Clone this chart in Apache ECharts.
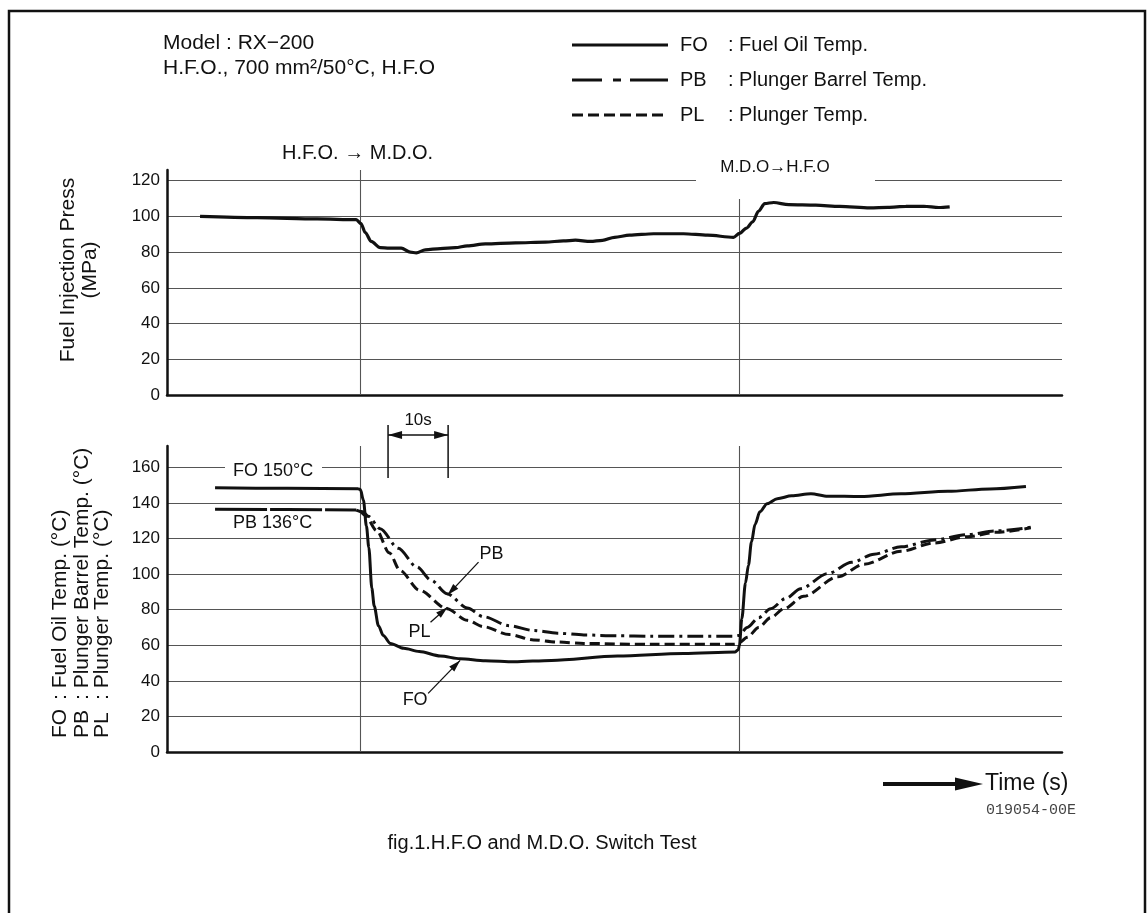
<!DOCTYPE html>
<html><head><meta charset="utf-8">
<script src="https://cdn.jsdelivr.net/npm/echarts@6/dist/echarts.min.js"></script>
<style>html,body{margin:0;padding:0;background:#fff}#c{width:1148px;height:913px}</style>
</head><body><div id="c"></div>
<script>
// ---------- DATA (time in s) ----------
const pressT = [5.5,15,25,31.5,32.3,33,34,35.5,37,39,40.5,41.5,43,45.5,48,50,53,58,63,66,68,70.5,72.5,74.5,77,81,86,90,94.3,95.3,96.5,97.5,98.5,99.5,101,103.5,108,112,117,120,123,126,128.5,130.3];
const pressV = [100,99.3,98.6,98.2,96,91,86,82.5,82.2,82.3,80,79.6,81.3,82,82.5,83.5,84.6,85.2,85.6,86.3,86.7,86,86.6,88.3,89.5,90.3,90.3,89.5,88.3,90.5,93.5,97,103,107.2,107.8,106.6,106.3,105.6,104.8,105.1,105.6,105.7,105,105.4];

const foT = [8,20,31.8,32.2,32.7,33.2,33.6,34.1,34.5,35.2,36,37.2,39.4,42,45.5,48.8,53,57.8,64,75,86,94.6,95.1,95.3,95.7,96.3,96.8,97.3,97.9,98.7,99.9,101.6,104,107.2,110,115.5,122.2,130,137,143];
const foV = [148.5,148.2,148,147.5,141.5,127,115,92,82,71,65.5,61,58.3,56.5,54,52.4,51.3,50.7,51.5,53.9,55.4,56.2,57.5,60,75,95,105,118,128,135,139.6,142.4,144,145.2,143.8,143.6,145.1,146.5,147.9,149.3];

const pbT = [8,20,31.5,32.6,33.5,35.5,38.5,41.6,44,46.6,50,52.7,57,61,65,69.4,75,80.5,88,94.2,95.2,96.6,98.5,100.5,103,105.5,110,114,117.7,122.2,127.7,133.3,138,143.8];
const pbV = [136.5,136.3,136,135,132.5,125.5,114.5,104,96.5,89,81,76,71,68.3,66.8,65.8,65.3,65.1,65,65,65.5,70,75.5,80.5,86.3,91.8,100.3,106.6,111.2,115.3,119.2,122.2,124.3,126.3];
const pbFlatEnd = 2; // index where the long-dash lead-in of PB ends

const plT = [32.2,33,34.9,37,38.8,42,46.6,50,52.7,57,61,65,69.4,80.5,94.5,95.3,96.6,98.5,100.5,102.7,106,111.7,116,122.2,127.7,133.3,138,143.8];
const plV = [135.5,133,124.5,112,102,91,80.5,74,70.4,66,63,61.8,61,60.5,60.5,61.5,64.5,70,75.5,80.5,87.5,98.5,105.5,112.8,117.5,121,123.5,126];

const yTicksTop = [0,20,40,60,80,100,120];
const yTicksBot = [0,20,40,60,80,100,120,140,160];
const switchTimes = [32.2, 95.2];
const scaleBarT = [36.8, 46.8];

// ---------- CHART ----------
const zip = (t, v) => t.map((x, i) => [x, v[i]]);
const FF = '"Liberation Sans", Arial, Helvetica, sans-serif';
const INK = '#111';
const chart = echarts.init(document.getElementById('c'), null, {renderer: 'canvas'});

function xAx(g) {
  return {type: 'value', gridIndex: g, min: 0, max: 149,
    axisLabel: {show: false}, axisTick: {show: false}, splitLine: {show: false},
    axisLine: {show: true, lineStyle: {color: INK, width: 2.5}}};
}
function yAx(g, max, ticks) {
  return {type: 'value', gridIndex: g, min: 0, max: max, interval: 20,
    axisLine: {show: true, lineStyle: {color: INK, width: 2.5}},
    axisTick: {show: false},
    axisLabel: {show: true, fontSize: 17, fontFamily: FF, color: INK, margin: 7,
      showMaxLabel: false, formatter: v => ticks.includes(v) ? String(v) : ''},
    splitLine: {show: true, showMaxLine: false, lineStyle: {color: '#555', width: 1.1}}};
}
const vLines = {silent: true, symbol: ['none', 'none'], label: {show: false},
  lineStyle: {color: '#555', width: 1.1, type: 'solid'},
  data: switchTimes.map(t => ({xAxis: t}))};
const pbData = zip(pbT, pbV);

chart.setOption({
  animation: false,
  backgroundColor: '#fff',
  grid: [
    {left: 167, right: 86, top: 170, height: 225, outerBoundsMode: 'none'},
    {left: 167, right: 86, top: 446, height: 306, outerBoundsMode: 'none'}
  ],
  xAxis: [xAx(0), xAx(1)],
  yAxis: [yAx(0, 126, yTicksTop), yAx(1, 172, yTicksBot)],
  series: [
    {name: 'Fuel Injection Press', type: 'line', xAxisIndex: 0, yAxisIndex: 0,
     data: zip(pressT, pressV), showSymbol: false, smooth: 0.3, smoothMonotone: 'x',
     lineStyle: {color: INK, width: 3.2}, markLine: vLines, z: 5},
    {name: 'FO', type: 'line', xAxisIndex: 1, yAxisIndex: 1,
     data: zip(foT, foV), showSymbol: false, smooth: 0.3, smoothMonotone: 'x',
     lineStyle: {color: INK, width: 3}, markLine: vLines, z: 5},
    {name: 'PB', type: 'line', xAxisIndex: 1, yAxisIndex: 1,
     data: pbData.slice(0, pbFlatEnd + 1), showSymbol: false,
     lineStyle: {color: INK, width: 3, type: [52, 3]}, z: 5},
    {name: 'PB', type: 'line', xAxisIndex: 1, yAxisIndex: 1,
     data: pbData.slice(pbFlatEnd), showSymbol: false, smooth: 0.3, smoothMonotone: 'x',
     lineStyle: {color: INK, width: 3, type: [16, 5, 3, 5]}, z: 5},
    {name: 'PL', type: 'line', xAxisIndex: 1, yAxisIndex: 1,
     data: zip(plT, plV), showSymbol: false, smooth: 0.3, smoothMonotone: 'x',
     lineStyle: {color: INK, width: 3, type: [10, 5]}, z: 5}
  ]
});

// ---------- ANNOTATIONS ----------
const P = (t, v) => chart.convertToPixel({gridIndex: 1}, [t, v]);
function txt(x, y, text, size, opts) {
  opts = opts || {};
  return {type: 'text', x: x, y: y, rotation: opts.rot || 0, z: 110,
    style: {text: text, fontSize: size, fontFamily: opts.ff || FF, fill: opts.fill || INK,
      align: opts.align || 'left', verticalAlign: 'middle'}};
}
function line(x1, y1, x2, y2, w, dash) {
  return {type: 'line', z: 105, shape: {x1: x1, y1: y1, x2: x2, y2: y2},
    style: {stroke: INK, lineWidth: w, lineDash: dash || null}};
}
function head(x1, y1, x2, y2, len, hw) {
  const a = Math.atan2(y2 - y1, x2 - x1);
  const bx = x2 - len * Math.cos(a), by = y2 - len * Math.sin(a);
  const px = -Math.sin(a) * hw, py = Math.cos(a) * hw;
  return {type: 'polygon', z: 106, shape: {points: [[x2, y2], [bx + px, by + py], [bx - px, by - py]]},
    style: {fill: INK}};
}
function whiteBox(x, y, w, h) {
  return {type: 'rect', z: 100, shape: {x: x, y: y, width: w, height: h}, style: {fill: '#fff'}};
}

const g = [];
// frame
g.push({type: 'rect', z: 120, shape: {x: 9, y: 11, width: 1136, height: 960},
  style: {fill: 'none', stroke: INK, lineWidth: 2.5}});
// header texts
g.push(txt(163, 43, 'Model : RX\u2212200', 21));
g.push(txt(163, 68, 'H.F.O., 700 mm\u00b2/50\u00b0C, H.F.O', 21));
// legend
g.push(line(572, 45, 668, 45, 3));
g.push(line(572, 80, 602, 80, 3), line(613, 80, 621, 80, 3), line(630, 80, 668, 80, 3));
g.push(line(572, 115, 668, 115, 3, [11, 5]));
[['FO', ': Fuel Oil Temp.', 45], ['PB', ': Plunger Barrel Temp.', 80], ['PL', ': Plunger Temp.', 115]]
  .forEach(r => { g.push(txt(680, r[2], r[0], 20)); g.push(txt(728, r[2], r[1], 20)); });
// switch labels
g.push(txt(282, 153, 'H.F.O. \u2192 M.D.O.', 20));
g.push(whiteBox(696, 150, 179, 49));
g.push(txt(775, 167, 'M.D.O\u2192H.F.O', 17, {align: 'center'}));
// axis names
g.push(txt(68, 270, 'Fuel Injection Press', 21, {rot: Math.PI / 2, align: 'center'}));
g.push(txt(90, 270, '(MPa)', 21, {rot: Math.PI / 2, align: 'center'}));
[['FO', ': Fuel Oil Temp. (\u00b0C)', 60], ['PB', ': Plunger Barrel Temp. (\u00b0C)', 82], ['PL', ': Plunger Temp. (\u00b0C)', 102]]
  .forEach(r => { g.push(txt(r[2], 738, r[0], 21, {rot: Math.PI / 2})); g.push(txt(r[2], 700, r[1], 21, {rot: Math.PI / 2})); });
// level labels
g.push(whiteBox(225, 460, 97, 22));
g.push(txt(233, 471, 'FO 150\u00b0C', 18));
g.push(txt(233, 523, 'PB 136\u00b0C', 18));
// 10 s scale bar
const sx1 = P(scaleBarT[0], 0)[0], sx2 = P(scaleBarT[1], 0)[0];
g.push(line(sx1, 425, sx1, 478, 1.5), line(sx2, 425, sx2, 478, 1.5));
g.push(line(sx1, 435, sx2, 435, 1.5));
g.push(head(sx2, 435, sx1, 435, 14, 4), head(sx1, 435, sx2, 435, 14, 4));
g.push(txt((sx1 + sx2) / 2, 420, '10s', 17, {align: 'center'}));
// curve callouts
[['PB', 46.7, 88.2, 31, -33, 13, -8], ['PL', 46.7, 81.4, -17, 15, -11, 10], ['FO', 48.8, 51.5, -32, 33, -13, 7]]
  .forEach(c => {
    const tip = P(c[1], c[2]);
    const tx = tip[0] + c[3], ty = tip[1] + c[4];
    g.push(line(tx, ty, tip[0], tip[1], 1.3));
    g.push(head(tx, ty, tip[0], tip[1], 12, 3.5));
    g.push(txt(tx + c[5], ty + c[6], c[0], 18, {align: 'center'}));
  });
// time arrow
g.push(line(883, 784, 960, 784, 4));
g.push({type: 'polygon', z: 106, shape: {points: [[955, 777.5], [983, 784], [955, 790.5]]}, style: {fill: INK}});
g.push(txt(985, 784, 'Time (s)', 23));
g.push(txt(986, 810, '019054-00E', 15, {ff: '"Liberation Mono", "DejaVu Sans Mono", monospace', fill: '#444'}));
// caption
g.push(txt(542, 843, 'fig.1.H.F.O and M.D.O. Switch Test', 20, {align: 'center'}));

chart.setOption({graphic: g});
</script></body></html>
